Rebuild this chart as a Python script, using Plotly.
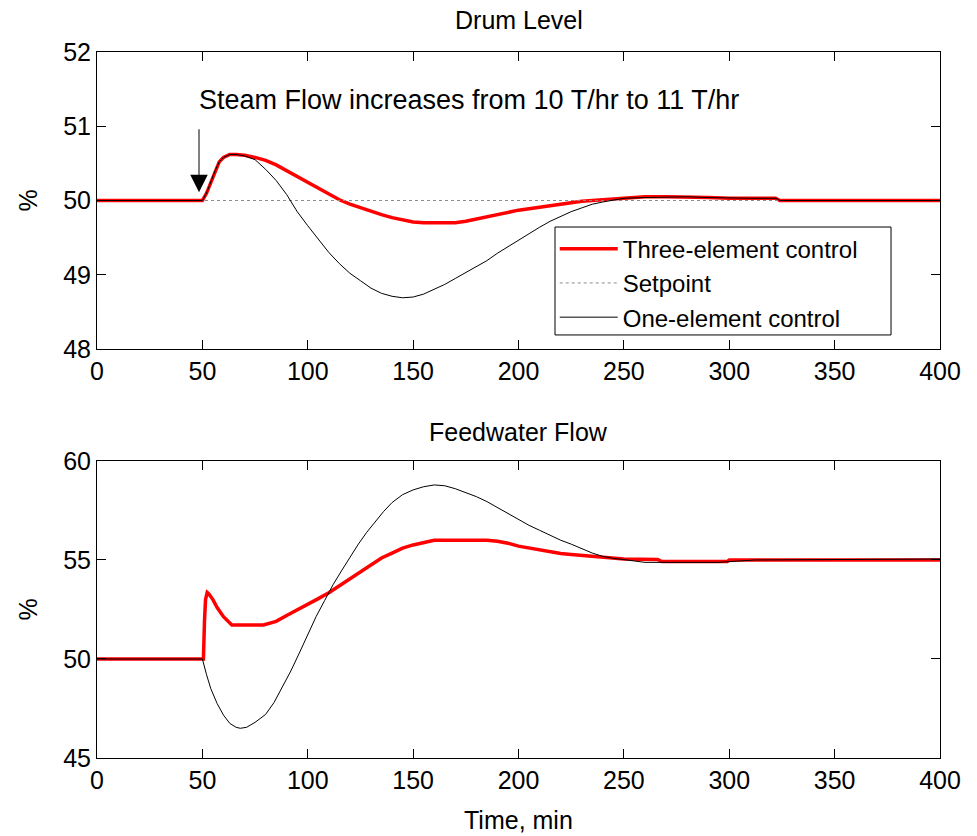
import plotly.graph_objects as go

# ---------------- Data ----------------
# Drum level, three-element control
t_lvl3 = [0, 50, 52, 54, 56, 58, 60, 63, 66, 70, 75, 80, 85, 90, 95, 100, 105, 110, 115, 120,
          125, 130, 135, 140, 145, 150, 155, 160, 165, 170, 175, 180, 185, 190, 195, 200, 210,
          220, 230, 240, 250, 260, 270, 280, 290, 300, 310, 322, 324, 335, 400]
lvl3 = [50.0, 50.0, 50.1, 50.25, 50.40, 50.52, 50.58, 50.62, 50.62, 50.61, 50.58, 50.54, 50.48,
        50.40, 50.32, 50.25, 50.17, 50.09, 50.01, 49.95, 49.90, 49.85, 49.81, 49.77, 49.74,
        49.71, 49.70, 49.70, 49.70, 49.70, 49.72, 49.75, 49.77, 49.80, 49.84, 49.87, 49.91,
        49.95, 49.99, 50.01, 50.035, 50.05, 50.05, 50.05, 50.04, 50.03, 50.03, 50.03, 50.0,
        50.0, 50.0]

# Drum level, one-element control
t_lvl1 = [0, 50, 52, 54, 56, 58, 60, 63, 66, 70, 75, 80, 85, 90, 95, 100, 105, 110, 115, 120,
          125, 130, 135, 140, 145, 150, 155, 160, 165, 170, 175, 180, 185, 190, 195, 200, 205,
          210, 215, 220, 225, 230, 235, 240, 245, 250, 260, 270, 280, 290, 300, 310, 322, 324,
          335, 400]
lvl1 = [50.0, 50.0, 50.1, 50.25, 50.40, 50.52, 50.58, 50.62, 50.62, 50.60, 50.55, 50.42, 50.27,
        50.08, 49.85, 49.66, 49.48, 49.30, 49.15, 49.02, 48.92, 48.82, 48.75, 48.71, 48.69,
        48.70, 48.74, 48.80, 48.87, 48.95, 49.03, 49.10, 49.19, 49.29, 49.38, 49.47, 49.56,
        49.64, 49.72, 49.79, 49.85, 49.90, 49.95, 49.98, 50.01, 50.03, 50.04, 50.05, 50.05,
        50.04, 50.03, 50.03, 50.03, 50.0, 50.0, 50.0]

# Setpoint
t_sp = [0, 400]
sp = [50.0, 50.0]

# Feedwater flow, three-element control
t_fw3 = [0, 50, 50.5, 51, 51.5, 52.3, 53, 55, 57, 60, 62, 64, 79, 85, 90, 95, 100, 105, 110,
         115, 120, 125, 130, 135, 140, 145, 150, 155, 160, 170, 185, 190, 195, 200, 205, 210,
         215, 220, 225, 230, 240, 250, 266, 268, 299, 300, 400]
fw3 = [50.0, 50.0, 50.0, 51.9, 53.0, 53.36, 53.3, 53.0, 52.6, 52.14, 51.9, 51.72, 51.72, 51.9,
       52.2, 52.5, 52.8, 53.05, 53.35, 53.7, 54.1, 54.45, 54.8, 55.1, 55.35, 55.6, 55.76, 55.9,
       56.0, 56.0, 56.0, 55.95, 55.85, 55.7, 55.6, 55.5, 55.4, 55.33, 55.28, 55.23, 55.12,
       55.05, 55.03, 54.92, 54.92, 55.0, 55.0]

# Feedwater flow, one-element control
t_fw1 = [0, 50, 52, 54, 57, 60, 63, 66, 68, 71, 75, 80, 84, 88, 92, 96, 100, 104, 108, 112,
         116, 120, 124, 128, 132, 136, 140, 145, 150, 155, 160, 165, 170, 175, 180, 185, 190,
         195, 200, 205, 210, 215, 220, 225, 230, 235, 240, 245, 250, 255, 260, 295, 305, 312,
         400]
fw1 = [50.0, 50.0, 49.2, 48.5, 47.75, 47.17, 46.75, 46.55, 46.5, 46.55, 46.8, 47.2, 47.8, 48.6,
       49.4, 50.3, 51.25, 52.15, 52.95, 53.75, 54.45, 55.15, 55.8, 56.4, 56.95, 57.45, 57.9,
       58.3, 58.54, 58.7, 58.79, 58.75, 58.6, 58.4, 58.2, 57.95, 57.65, 57.35, 57.05, 56.75,
       56.5, 56.25, 56.0, 55.8, 55.58, 55.35, 55.18, 55.08, 55.02, 54.95, 54.88, 54.88, 54.95,
       55.0, 55.05]

x_ticks = [0, 50, 100, 150, 200, 250, 300, 350, 400]
lvl_ticks = [48, 49, 50, 51, 52]
fw_ticks = [45, 50, 55, 60]

# ---------------- Figure ----------------
FONT = "Liberation Sans, Arial, Helvetica, sans-serif"
FS = 25

fig = go.Figure()

fig.add_trace(go.Scatter(x=t_lvl3, y=lvl3, mode="lines", name="Three-element control",
                         line=dict(color="#ff0000", width=3.5), xaxis="x", yaxis="y"))
fig.add_trace(go.Scatter(x=t_sp, y=sp, mode="lines", name="Setpoint",
                         line=dict(color="#8c8c8c", width=1, dash="dot"), xaxis="x", yaxis="y"))
fig.add_trace(go.Scatter(x=t_lvl1, y=lvl1, mode="lines", name="One-element control",
                         line=dict(color="#000000", width=1), xaxis="x", yaxis="y"))

fig.add_trace(go.Scatter(x=t_fw3, y=fw3, mode="lines", showlegend=False,
                         line=dict(color="#ff0000", width=3.5), xaxis="x2", yaxis="y2"))
fig.add_trace(go.Scatter(x=t_fw1, y=fw1, mode="lines", showlegend=False,
                         line=dict(color="#000000", width=1), xaxis="x2", yaxis="y2"))

axis_common = dict(showline=True, linecolor="black", linewidth=1, mirror="ticks",
                   ticks="inside", ticklen=9, tickcolor="black", showgrid=False,
                   zeroline=False, tickfont=dict(family=FONT, size=FS, color="black"))

fig.update_layout(
    width=977, height=836,
    margin=dict(l=97, r=37, t=52, b=78),
    paper_bgcolor="white", plot_bgcolor="white",
    font=dict(family=FONT, size=FS, color="black"),
    xaxis=dict(domain=[0, 1], range=[0, 400], tickvals=x_ticks, anchor="y", **axis_common),
    yaxis=dict(domain=[0.5793, 1], range=[48, 52], tickvals=lvl_ticks, anchor="x", **axis_common),
    xaxis2=dict(domain=[0, 1], range=[0, 400], tickvals=x_ticks, anchor="y2", **axis_common),
    yaxis2=dict(domain=[0, 0.4207], range=[45, 60], tickvals=fw_ticks, anchor="x2", **axis_common),
    legend=dict(x=0.543, y=0.7526, xanchor="left", yanchor="top",
                bgcolor="rgba(0,0,0,0)", borderwidth=0,
                font=dict(family=FONT, size=24, color="black"),
                itemwidth=58, tracegroupgap=0),
    showlegend=True,
    shapes=[dict(type="rect", xref="paper", yref="paper",
                 x0=0.5433, x1=0.9419, y0=0.5992, y1=0.7521,
                 line=dict(color="black", width=1), fillcolor="white", layer="above")],
)

annotations = [
    dict(text="Drum Level", x=0.5, y=1.0453, xref="paper", yref="paper", showarrow=False,
         font=dict(size=FS), xanchor="center", yanchor="middle"),
    dict(text="Feedwater Flow", x=0.5, y=0.4618, xref="paper", yref="paper", showarrow=False,
         font=dict(size=FS), xanchor="center", yanchor="middle"),
    dict(text="Time, min", x=0.5, y=-0.088, xref="paper", yref="paper", showarrow=False,
         font=dict(size=FS), xanchor="center", yanchor="middle"),
    dict(text="%", x=-0.082, y=0.7896, xref="paper", yref="paper", showarrow=False,
         textangle=-90, font=dict(size=FS), xanchor="center", yanchor="middle"),
    dict(text="%", x=-0.082, y=0.2103, xref="paper", yref="paper", showarrow=False,
         textangle=-90, font=dict(size=FS), xanchor="center", yanchor="middle"),
    dict(text="Steam Flow increases from 10 T/hr to 11 T/hr", x=47.4, y=51.35, xref="x", yref="y",
         showarrow=False, font=dict(size=27), xanchor="left", yanchor="middle"),
    dict(text="", x=48.4, y=50.11, xref="x", yref="y", ax=48.4, ay=50.98, axref="x", ayref="y",
         showarrow=True, arrowhead=2, arrowsize=3.5, arrowwidth=1, arrowcolor="black", standoff=0),
]
fig.update_layout(annotations=annotations)

fig.write_html("out.html", config={"displayModeBar": False},
               post_script="document.body.style.margin='0';document.body.style.padding='0';")
